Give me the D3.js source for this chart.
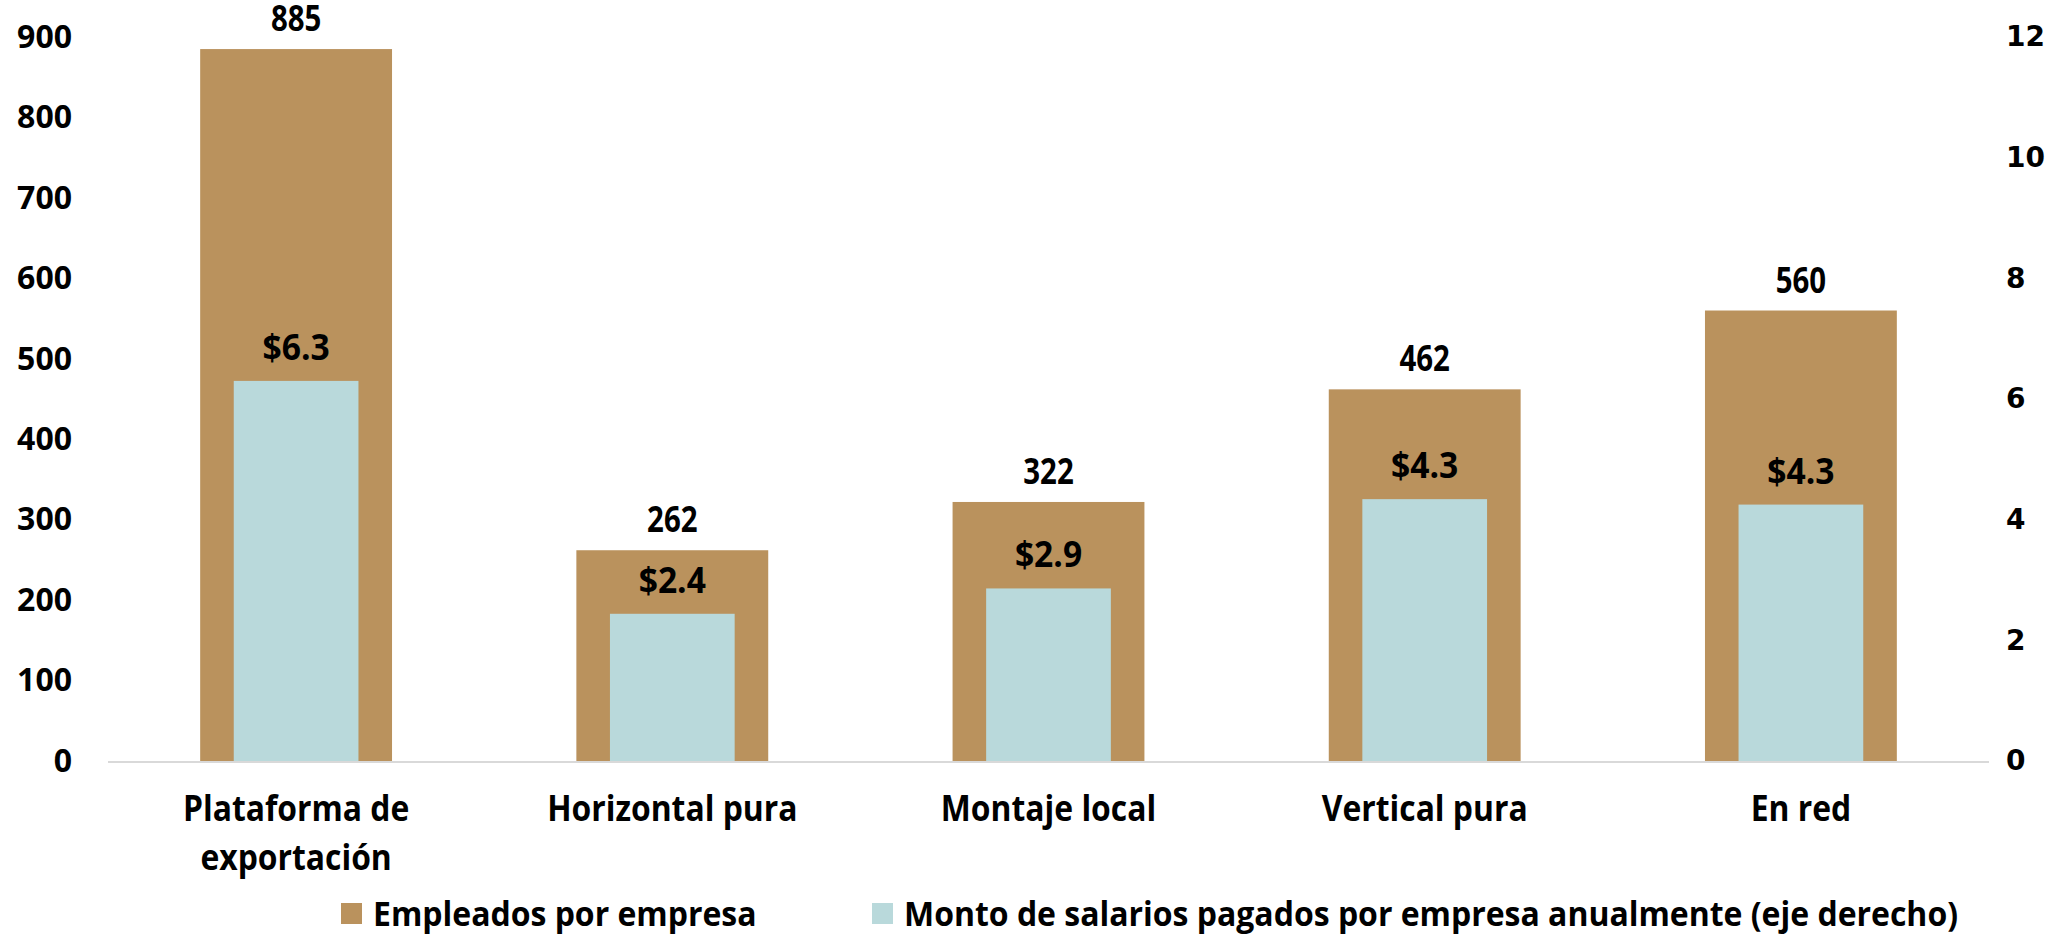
<!DOCTYPE html>
<html>
<head>
<meta charset="utf-8">
<script src="https://cdn.jsdelivr.net/npm/d3@7"></script>
<style>
body { margin: 0; background: #fff; }
text { font-family: "Open Sans", sans-serif; font-weight: 700; fill: #000; }
</style>
</head>
<body>
<script>
var categories = [["Plataforma de", "exportación"], ["Horizontal pura"], ["Montaje local"], ["Vertical pura"], ["En red"]];
var empleados = [885, 262, 322, 462, 560];
var salarios = [6.3, 2.44, 2.86, 4.34, 4.25];
var leftTicks = [0, 100, 200, 300, 400, 500, 600, 700, 800, 900];
var rightTicks = [0, 2, 4, 6, 8, 10, 12];
var seriesNames = ["Empleados por empresa", "Monto de salarios pagados por empresa anualmente (eje derecho)"];

var width = 2072, height = 945;
var marginLeft = 108, marginRight = 83, marginTop = 37, marginBottom = 184;
var brown = "#ba925d", blue = "#b9d9db";

var svg = d3.select("body").append("svg")
    .attr("width", width)
    .attr("height", height);

var data = categories.map(function(c, i){
    return { name: c, emp: empleados[i], sal: salarios[i] };
});

var x = d3.scaleBand()
    .domain(d3.range(categories.length))
    .range([marginLeft, width - marginRight])
    .paddingInner(0.49)
    .paddingOuter(0.245);

var yLeft = d3.scaleLinear().domain([0, 900]).range([height - marginBottom, marginTop]);
var yRight = d3.scaleLinear().domain([0, 12]).range([height - marginBottom, marginTop]);

// narrow the text a bit, the source font is a condensed one
function fit(k){
    return function(sel){
        sel.each(function(){
            var w = this.getComputedTextLength();
            d3.select(this).attr("textLength", w * k).attr("lengthAdjust", "spacingAndGlyphs");
        });
    };
}

// axes
var leftAxis = svg.append("g")
    .attr("transform", "translate(" + (marginLeft - 36) + ",0)")
    .call(d3.axisLeft(yLeft).tickValues(leftTicks).tickSize(0).tickPadding(0));
leftAxis.select(".domain").remove();
leftAxis.selectAll("text")
    .style("font-family", "'Open Sans', sans-serif")
    .style("font-weight", 700)
    .attr("font-size", 32)
    .attr("fill", "#000");

var rightAxis = svg.append("g")
    .attr("transform", "translate(" + (width - marginRight + 17) + ",0)")
    .call(d3.axisRight(yRight).tickValues(rightTicks).tickSize(0).tickPadding(0));
rightAxis.select(".domain").remove();
rightAxis.selectAll("text")
    .style("font-family", "'DejaVu Sans', sans-serif")
    .style("font-weight", 700)
    .attr("font-size", 28)
    .attr("fill", "#000");

// bars
var groups = svg.selectAll(".cat")
    .data(data)
    .enter()
    .append("g")
    .attr("class", "cat");

groups.append("rect")
    .attr("x", function(d, i){ return x(i); })
    .attr("y", function(d){ return yLeft(d.emp); })
    .attr("width", x.bandwidth())
    .attr("height", function(d){ return yLeft(0) - yLeft(d.emp); })
    .attr("fill", brown);

var innerW = x.bandwidth() * 0.65;
groups.append("rect")
    .attr("x", function(d, i){ return x(i) + (x.bandwidth() - innerW) / 2; })
    .attr("y", function(d){ return yRight(d.sal); })
    .attr("width", innerW)
    .attr("height", function(d){ return yRight(0) - yRight(d.sal); })
    .attr("fill", blue);

// baseline
svg.append("line")
    .attr("x1", marginLeft).attr("x2", width - marginRight)
    .attr("y1", yLeft(0) + 1).attr("y2", yLeft(0) + 1)
    .attr("stroke", "#d9d9d9").attr("stroke-width", 2);

// value labels
groups.append("text")
    .attr("x", function(d, i){ return x(i) + x.bandwidth() / 2; })
    .attr("y", function(d){ return yLeft(d.emp) - 18; })
    .attr("text-anchor", "middle")
    .attr("font-size", 35)
    .text(function(d){ return d.emp; })
    .call(fit(0.84));

groups.append("text")
    .attr("x", function(d, i){ return x(i) + x.bandwidth() / 2; })
    .attr("y", function(d){ return yRight(d.sal) - 21; })
    .attr("text-anchor", "middle")
    .attr("font-size", 35)
    .text(function(d){ return "$" + d.sal.toFixed(1); })
    .call(fit(0.96));

// category labels
groups.each(function(d, i){
    var g = d3.select(this);
    d.name.forEach(function(line, j){
        g.append("text")
            .attr("x", x(i) + x.bandwidth() / 2)
            .attr("y", 821 + j * 49)
            .attr("text-anchor", "middle")
            .attr("font-size", 35)
            .text(line)
            .call(fit(0.91));
    });
});

// legend
var legendX = [341, 872];
var legend = svg.selectAll(".legend")
    .data(seriesNames)
    .enter()
    .append("g")
    .attr("class", "legend")
    .attr("transform", function(d, i){ return "translate(" + legendX[i] + ",903)"; });

legend.append("rect")
    .attr("width", 21).attr("height", 21)
    .attr("fill", function(d, i){ return i == 0 ? brown : blue; });

legend.append("text")
    .attr("x", 32)
    .attr("y", 23)
    .attr("font-size", 34)
    .text(function(d){ return d; })
    .call(fit(0.94));
</script>
</body>
</html>
